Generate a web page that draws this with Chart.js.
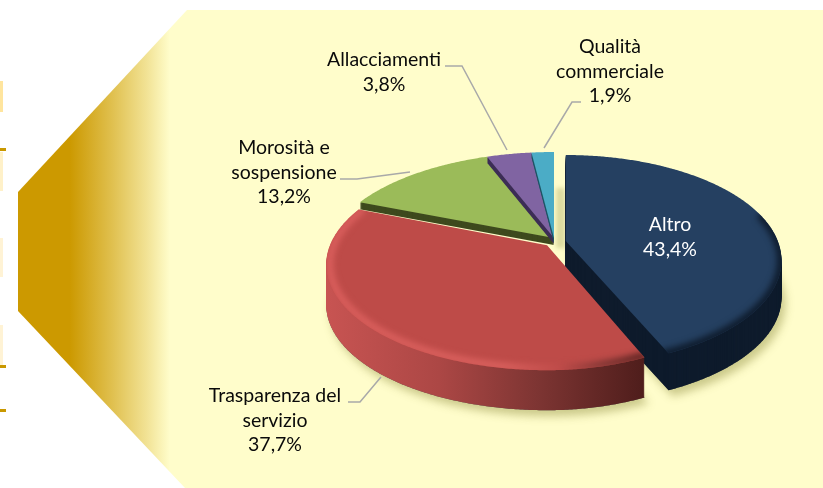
<!DOCTYPE html>
<html>
<head>
<meta charset="utf-8">
<style>
html,body{margin:0;padding:0;background:#fff;}
#wrap{position:relative;width:823px;height:488px;}
canvas{display:block;}
</style>
<script src="https://cdn.jsdelivr.net/npm/chart.js@4/dist/chart.umd.min.js"></script>
</head>
<body>
<div id="wrap"><canvas id="c" width="823" height="488"></canvas></div>
<script>
const categories = ['Altro', 'Trasparenza del servizio', 'Morosità e sospensione', 'Allacciamenti', 'Qualità commerciale'];
const values = [43.4, 37.7, 13.2, 3.8, 1.9];
const valueLabels = ['43,4%', '37,7%', '13,2%', '3,8%', '1,9%'];
const labelLines = [['Altro'], ['Trasparenza del', 'servizio'], ['Morosità e', 'sospensione'], ['Allacciamenti'], ['Qualità', 'commerciale']];
const sliceColors = ['#254061', '#BE4B48', '#9BBB59', '#8064A2', '#4BACC6'];
const explode = [12, 10, 0, 0, 0];

// projection of the flat pie into the tilted view
const SX_RIGHT = [212, 201, 212, 212, 212];
const SX_LEFT = [217, 217, 224, 224, 224];
const SY = 101.9, PERSP = 0.185;
const depths = [37, 40, 7, 6, 5];
const wallColors = ['#0E1B2C', null, '#3E4A1E', '#3C2D55', '#1F5566'];
const labelAnchors = [[670, 231], [275, 402], [284, 154], [384, 66], [610, 53]];
const leaders = [null,
  [[348, 402], [360, 402], [381, 377]],
  [[340, 179], [357, 179], [410, 172]],
  [[445, 66], [462, 66], [507, 150]],
  [[581, 102], [572, 102], [544, 148]]];

function centre(arc, i) {
  const mid = (arc.startAngle + arc.endAngle) / 2, off = explode[i];
  const s = Math.sin(mid);
  return [arc.x + off * Math.cos(mid), arc.y + (s > 0 ? off * s : off ? 3 : 0)];
}
function pt(c, a, i) {
  const u = Math.cos(a), v = Math.sin(a), w = 1 - PERSP * v;
  return [c[0] + (u > 0 ? SX_RIGHT[i] : SX_LEFT[i]) * u / w, c[1] + SY * v / w];
}
function slicePath(ctx, arc, i, dy) {
  const c = centre(arc, i), st = Math.PI / 360;
  ctx.beginPath();
  ctx.moveTo(c[0], c[1] + dy);
  for (let a = arc.startAngle; a < arc.endAngle; a += st) {
    const p = pt(c, a, i); ctx.lineTo(p[0], p[1] + dy);
  }
  const e = pt(c, arc.endAngle, i); ctx.lineTo(e[0], e[1] + dy);
  ctx.closePath();
}
function rimPath(ctx, arc, i, from, to, inset) {
  const c = centre(arc, i), st = Math.PI / 360;
  ctx.beginPath();
  for (let a = Math.max(from, arc.startAngle - .2); a <= Math.min(to, arc.endAngle + .2); a += st) {
    const p = pt(c, a, i);
    const qx = c[0] + (p[0] - c[0]) * inset, qy = c[1] + (p[1] - c[1]) * inset;
    ctx.lineTo(qx, qy);
  }
}

const backdrop = {
  id: 'backdrop',
  beforeDraw(chart) {
    const ctx = chart.ctx;
    ctx.save();
    ctx.fillStyle = '#fff'; ctx.fillRect(0, 0, 823, 488);
    const g = ctx.createLinearGradient(18, 0, 170, 0);
    g.addColorStop(0, '#CC9900'); g.addColorStop(0.34, '#CC9900');
    g.addColorStop(0.62, '#E0C04F'); g.addColorStop(0.85, '#F2E396'); g.addColorStop(1, '#FFFDCB');
    ctx.fillStyle = g;
    ctx.beginPath();
    ctx.moveTo(187, 10); ctx.lineTo(823, 10); ctx.lineTo(823, 488); ctx.lineTo(185, 488);
    ctx.lineTo(18, 311); ctx.lineTo(18, 192); ctx.closePath(); ctx.fill();
    ctx.fillStyle = '#FFE59E'; ctx.fillRect(0, 81, 3, 31);
    ctx.fillStyle = '#FFF1C9'; ctx.fillRect(0, 152, 3, 39);
    ctx.fillStyle = '#FFF3D5'; ctx.fillRect(0, 238, 3, 39); ctx.fillRect(0, 325, 3, 40);
    ctx.fillStyle = '#C99800';
    ctx.fillRect(0, 148, 6, 3); ctx.fillRect(0, 365, 6, 3); ctx.fillRect(0, 409, 6, 3);
    ctx.restore();
  }
};

const tilted = {
  id: 'tilted',
  beforeDatasetDraw(chart) {
    const ctx = chart.ctx, arcs = chart.getDatasetMeta(0).data;
    ctx.save();
    [0, 1].forEach(i => {
      ctx.save();
      ctx.shadowColor = 'rgba(130,130,50,0.42)';
      ctx.shadowBlur = 9; ctx.shadowOffsetX = 4; ctx.shadowOffsetY = 6;
      ctx.fillStyle = '#555';
      slicePath(ctx, arcs[i], i, depths[i]); ctx.fill();
      ctx.restore();
    });
    ctx.save();
    ctx.filter = 'blur(2px)';
    ctx.fillStyle = 'rgba(150,150,70,0.32)';
    ctx.fillRect(556, 188, 9, 60);
    ctx.restore();

    [2, 3, 4, 0, 1].forEach(i => {
      const arc = arcs[i];
      let wall = wallColors[i];
      if (i === 1) {
        wall = ctx.createLinearGradient(325, 0, 650, 0);
        wall.addColorStop(0, '#C85452'); wall.addColorStop(0.35, '#AC4745');
        wall.addColorStop(0.65, '#7E3533'); wall.addColorStop(1, '#4C1C1A');
      }
      ctx.fillStyle = wall;
      for (let d = depths[i]; d >= 1; d--) { slicePath(ctx, arc, i, d); ctx.fill(); }
      ctx.fillStyle = sliceColors[i];
      slicePath(ctx, arc, i, 0); ctx.fill();

      if (i < 2) {
        ctx.save();
        slicePath(ctx, arc, i, 0); ctx.clip();
        ctx.filter = 'blur(3px)';
        ctx.lineWidth = i === 0 ? 9 : 7;
        ctx.lineCap = 'round';
        if (i === 0) {
          ctx.strokeStyle = '#0E1B2C';
          rimPath(ctx, arc, i, -0.25, Math.PI, 1.0);
          ctx.stroke();
        } else {
          const rim = ctx.createLinearGradient(325, 0, 650, 0);
          rim.addColorStop(0, '#DC605E'); rim.addColorStop(0.55, '#DB625F');
          rim.addColorStop(0.72, '#C04C4A'); rim.addColorStop(0.85, '#7E3533'); rim.addColorStop(1, '#4C1C1A');
          ctx.strokeStyle = rim;
          rimPath(ctx, arc, i, arc.startAngle, arc.endAngle, 0.985);
          ctx.stroke();
        }
        ctx.restore();
      }
    });
    ctx.restore();
    return false;
  },
  afterDatasetsDraw(chart) {
    const ctx = chart.ctx;
    ctx.save();
    ctx.strokeStyle = '#A9A9A9'; ctx.lineWidth = 1.5;
    leaders.forEach(l => {
      if (!l) return;
      ctx.beginPath();
      l.forEach((p, k) => k ? ctx.lineTo(p[0], p[1]) : ctx.moveTo(p[0], p[1]));
      ctx.stroke();
    });
    ctx.textAlign = 'center'; ctx.textBaseline = 'alphabetic';
    ctx.font = '19.5px Lato';
    labelLines.forEach((lines, i) => {
      ctx.fillStyle = i === 0 ? '#FFFFFF' : '#0A0A0A';
      const all = lines.concat(valueLabels[i]);
      all.forEach((t, k) => ctx.fillText(t, labelAnchors[i][0], labelAnchors[i][1] + k * 24.5));
    });
    ctx.restore();
  }
};

new Chart(document.getElementById('c'), {
  type: 'pie',
  data: {
    labels: categories,
    datasets: [{ data: values, backgroundColor: sliceColors, offset: explode, borderWidth: 0 }]
  },
  options: {
    responsive: false,
    animation: false,
    rotation: 0,
    layout: { padding: { left: 326, right: 41, top: 151, bottom: 163 } },
    plugins: { legend: { display: false }, tooltip: { enabled: false }, title: { display: false } }
  },
  plugins: [backdrop, tilted]
});
</script>
</body>
</html>
